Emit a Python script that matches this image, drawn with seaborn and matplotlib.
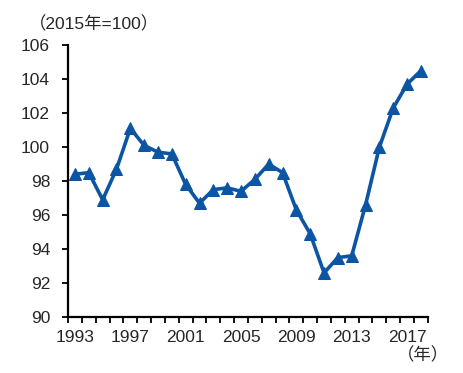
import numpy as np
import pandas as pd
import matplotlib
matplotlib.use('Agg')
import matplotlib.pyplot as plt
import seaborn as sns

# ── Data ─────────────────────────────────────────────────────────────────────
years = list(range(1993, 2019))
index_values = [98.4, 98.5, 96.9, 98.7, 101.1, 100.1, 99.7, 99.6, 97.8, 96.7,
                97.5, 97.6, 97.4, 98.1, 99.0, 98.5, 96.3, 94.9, 92.6, 93.5,
                93.6, 96.6, 100.0, 102.3, 103.7, 104.5]
label_years = [1993, 1997, 2001, 2005, 2009, 2013, 2017]
y_ticks = [90, 92, 94, 96, 98, 100, 102, 104, 106]

LINE_COLOR = '#0b55a3'

sns.set_style('white')
plt.rcParams['font.family'] = ['Liberation Sans', 'Noto Sans CJK JP', 'DejaVu Sans']

df = pd.DataFrame({'year': years, 'value': index_values})

fig = plt.figure(figsize=(4.63, 3.73), dpi=100)
ax = fig.add_axes([0.147, 0.150, 0.777, 0.729])

sns.lineplot(data=df, x='year', y='value', ax=ax, color=LINE_COLOR,
             linewidth=2.6, marker='^', markersize=8.5,
             markeredgecolor=LINE_COLOR, markerfacecolor=LINE_COLOR)

ax.set_xlim(years[0] - 0.5, years[-1] + 0.5)
ax.set_ylim(90, 106)
ax.set_yticks(y_ticks)
ax.set_yticklabels([str(v) for v in y_ticks], fontsize=12.5)

# labels on category centres, tick marks on category boundaries
ax.set_xticks(label_years)
ax.set_xticklabels([str(y) for y in label_years], fontsize=12.5)
ax.set_xticks(np.arange(years[0] - 0.5, years[-1] + 1.0, 1.0), minor=True)
ax.tick_params(axis='x', which='major', length=0, pad=9)
ax.tick_params(axis='x', which='minor', length=4, width=1.3, color='black',
               direction='out', bottom=True)
ax.tick_params(axis='y', length=4, width=1.3, color='black', direction='out',
               left=True, pad=9)

ax.set_xlabel('')
ax.set_ylabel('')
for side in ['top', 'right']:
    ax.spines[side].set_visible(False)
for side in ['left', 'bottom']:
    ax.spines[side].set_color('black')
    ax.spines[side].set_linewidth(1.6)

fig.text(0.062, 0.935, '（2015年=100）', fontsize=12.5, va='center', ha='left')
fig.text(0.858, 0.047, '（年）', fontsize=12.5, va='center', ha='left')

fig.savefig('out.png', dpi=100)
